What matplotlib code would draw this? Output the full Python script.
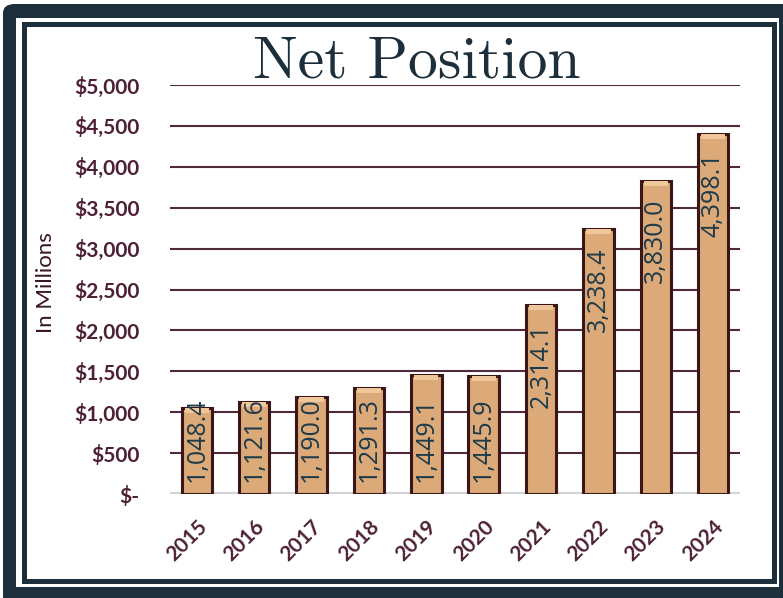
import matplotlib
matplotlib.use("Agg")
import matplotlib.pyplot as plt
from matplotlib.patches import FancyBboxPatch, Rectangle
import numpy as np

years = ["2015", "2016", "2017", "2018", "2019", "2020", "2021", "2022", "2023", "2024"]
net_position = [1048.4, 1121.6, 1190.0, 1291.3, 1449.1, 1445.9, 2314.1, 3238.4, 3830.0, 4398.1]
yticks = [0, 500, 1000, 1500, 2000, 2500, 3000, 3500, 4000, 4500, 5000]
ytick_labels = ["$-", "$500", "$1,000", "$1,500", "$2,000", "$2,500", "$3,000",
                "$3,500", "$4,000", "$4,500", "$5,000"]
title = "Net Position"
ylabel = "In Millions"

W, H = 783, 598
fig = plt.figure(figsize=(W / 100, H / 100), dpi=100)

def fx(px):
    return px / W

def fy(py):
    return 1 - py / H

dark = "#1c2f3b"
# outer frame
fig.patches.append(FancyBboxPatch((fx(3), fy(606)), fx(800), fy(4) - fy(606),
                                  boxstyle="round,pad=0,rounding_size=0.015",
                                  transform=fig.transFigure, facecolor=dark,
                                  edgecolor="none", zorder=0))
fig.patches.append(Rectangle((fx(16), fy(587)), fx(779 - 16), fy(18) - fy(587),
                             transform=fig.transFigure, facecolor="white",
                             edgecolor="none", zorder=0.5))
fig.patches.append(Rectangle((fx(23.5), fy(580.5)), fx(773.5 - 23.5), fy(24) - fy(580.5),
                             transform=fig.transFigure, facecolor="white",
                             edgecolor=dark, linewidth=3.6, zorder=0.6))

ax = fig.add_axes([fx(170), fy(494), fx(740 - 170), fy(85) - fy(494)])
ax.set_zorder(2)
ax.set_facecolor("none")
x = np.arange(len(years))
bars = ax.bar(x, net_position, width=0.53, color="#dca978", edgecolor="#3a1616",
              linewidth=2.2, zorder=3)

# bevel highlight on top of each bar
for b in bars:
    bx, bw, bh = b.get_x(), b.get_width(), b.get_height()
    ax.bar(bx + bw / 2, 60, bottom=bh - 60, width=bw * 0.8,
           color="#f0c79a", edgecolor="none", zorder=3.5)

ax.set_xlim(-0.47, 9.47)
ax.set_ylim(0, 5000)
ax.set_yticks(yticks)
ax.set_yticklabels(ytick_labels)
ax.set_xticks(x)
ax.set_xticklabels(years, rotation=45, ha="right", rotation_mode="anchor")

tick_color = "#4d2035"
for lab in ax.get_yticklabels():
    lab.set_fontfamily("Lato")
    lab.set_fontweight("bold")
    lab.set_fontsize(15)
    lab.set_color(tick_color)
for lab in ax.get_xticklabels():
    lab.set_fontfamily("Lato")
    lab.set_fontweight("bold")
    lab.set_fontsize(15)
    lab.set_color(tick_color)

ax.tick_params(axis="y", length=0, pad=22)
ax.tick_params(axis="x", length=0, pad=16)

for v in yticks[1:]:
    ax.axhline(v, color="#4e2a3c", linewidth=1.5, zorder=1)
ax.axhline(0, color="#d4d4d4", linewidth=3, zorder=2)
for s in ax.spines.values():
    s.set_visible(False)

for i, v in enumerate(net_position):
    txt = f"{v:,.1f}"
    if v > 2000:
        ax.annotate(txt, xy=(i, v), xytext=(0, -13), textcoords="offset points",
                    rotation=90, ha="center", va="top", fontsize=18,
                    family="Open Sans", color="#1c3a4a", zorder=5)
    else:
        ax.annotate(txt, xy=(i, 0), xytext=(0, 9), textcoords="offset points",
                    rotation=90, ha="center", va="bottom", fontsize=18,
                    family="Open Sans", color="#1c3a4a", zorder=5)

fig.text(fx(417), fy(77), title, family="cmr10", fontsize=43, color="#1c2f3b",
         ha="center", va="baseline")
fig.text(fx(46), fy(283), ylabel, family="Lato", fontsize=16, color="#3a1526",
         rotation=90, ha="center", va="center")

fig.savefig("out.png", dpi=100)
